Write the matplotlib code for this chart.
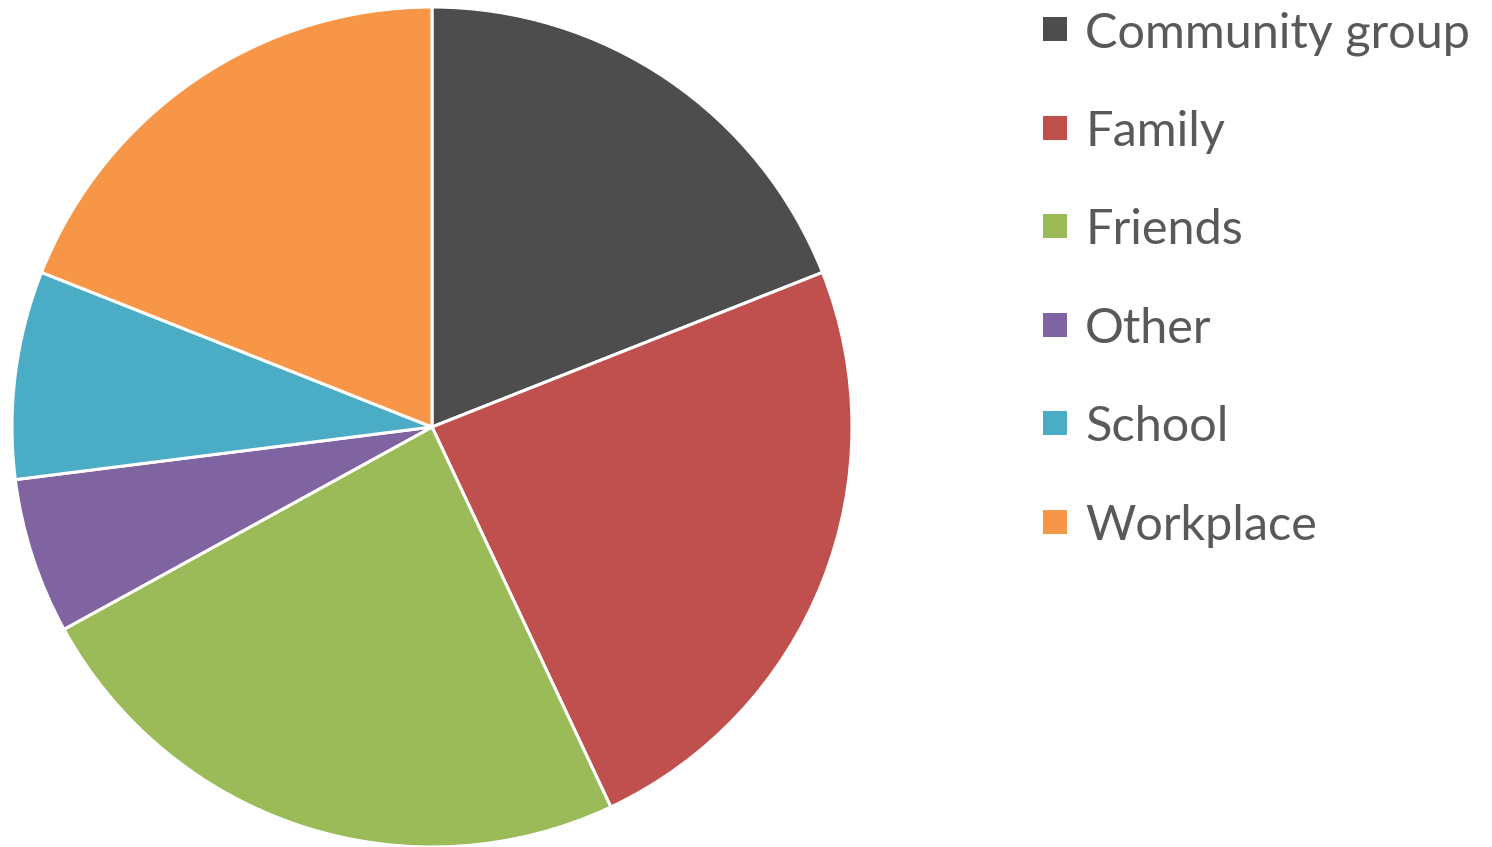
import matplotlib.pyplot as plt
from matplotlib.patches import Rectangle

# 資料
labels = ['Community group', 'Family', 'Friends', 'Other', 'School', 'Workplace']
values = [19, 24, 24, 6, 8, 19]
colors = ['#4D4D4D', '#C0504D', '#9BBB59', '#8064A2', '#4BACC6', '#F79646']

W, H = 1492, 847
fig = plt.figure(figsize=(W / 100, H / 100), dpi=100)

# 圓餅圖
ax = fig.add_axes([12 / W, 0, 840 / W, 840 / H])
ax.pie(values, colors=colors, startangle=90, counterclock=False,
       wedgeprops=dict(edgecolor='white', linewidth=2.2))
ax.set_xlim(-1, 1)
ax.set_ylim(-1, 1)
ax.set_aspect('equal')
ax.axis('off')

# 圖例
y0 = 29.5
step = 98.4
for i, (lab, c) in enumerate(zip(labels, colors)):
    y = y0 + i * step
    fig.patches.append(Rectangle(((1043) / W, 1 - (y + 12) / H), 24 / W, 24 / H,
                                 transform=fig.transFigure, facecolor=c,
                                 edgecolor='none'))
    fig.text(1085 / W, 1 - y / H, lab, fontsize=35, color='#595959',
             family='Lato', va='center_baseline', ha='left')

fig.savefig('out.png', dpi=100)
